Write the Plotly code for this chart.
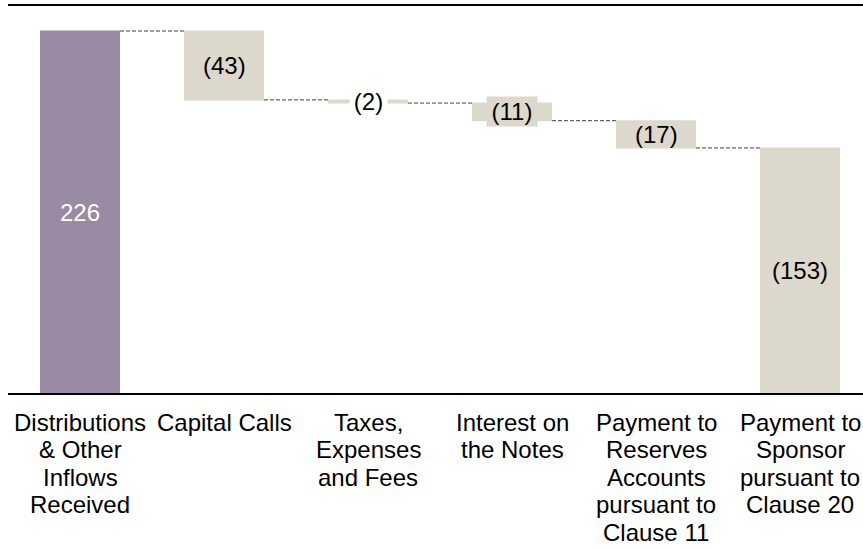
import plotly.graph_objects as go

categories = [
    "Distributions<br>& Other<br>Inflows<br>Received",
    "Capital Calls",
    "Taxes,<br>Expenses<br>and Fees",
    "Interest on<br>the Notes",
    "Payment to<br>Reserves<br>Accounts<br>pursuant to<br>Clause 11",
    "Payment to<br>Sponsor<br>pursuant to<br>Clause 20",
]
values = [226, -43, -2, -11, -17, -153]
measures = ["absolute", "relative", "relative", "relative", "relative", "relative"]
value_labels = ["226", "(43)", "(2)", "(11)", "(17)", "(153)"]

PURPLE = "#9b8aa3"
BEIGE = "#ddd8cc"
FONT = "Liberation Sans, Arial, sans-serif"
FS = 24
LINE_H = 27.4

x = list(range(len(categories)))

fig = go.Figure(go.Waterfall(
    x=x,
    y=values,
    measure=measures,
    width=[80 / 144] * len(x),
    increasing=dict(marker=dict(color=PURPLE, line=dict(width=0))),
    decreasing=dict(marker=dict(color=BEIGE, line=dict(width=0))),
    totals=dict(marker=dict(color=PURPLE, line=dict(width=0))),
    connector=dict(mode="between", line=dict(color="#404040", width=1, dash="4px,2px")),
    hoverinfo="skip",
))

# value labels placed at the middle of each bar
label_bg = [None, None, "white", BEIGE, None, None]
label_w = [None, None, 37, 50, None, None]
label_h = [None, None, None, 29, None, None]
label_color = ["white", "black", "black", "black", "black", "black"]
running = 0
for i, v in enumerate(values):
    if measures[i] == "absolute":
        start, end = 0, v
    else:
        start, end = running, running + v
    running = end
    mid = (start + end) / 2
    kw = {}
    if label_bg[i]:
        kw["bgcolor"] = label_bg[i]
    if label_w[i]:
        kw["width"] = label_w[i]
    if label_h[i]:
        kw["height"] = label_h[i]
    fig.add_annotation(
        x=i, y=mid, text=value_labels[i], showarrow=False,
        font=dict(family=FONT, size=FS, color=label_color[i]),
        borderpad=0, xref="x", yref="y", **kw,
    )

# category labels (tight line spacing, one line per annotation)
for i, cat in enumerate(categories):
    for k, line in enumerate(cat.split("<br>")):
        fig.add_annotation(
            x=i, xref="x", y=0, yref="paper", yanchor="middle",
            yshift=-(29.5 + k * LINE_H), text=line, showarrow=False,
            font=dict(family=FONT, size=FS, color="black"),
        )

fig.update_layout(
    width=863, height=548,
    margin=dict(l=8, r=0, t=6, b=155, autoexpand=False),
    paper_bgcolor="white", plot_bgcolor="white",
    showlegend=False,
    font=dict(family=FONT, size=FS, color="black"),
    xaxis=dict(
        tickmode="array", tickvals=x, ticktext=categories,
        showticklabels=False, automargin=False,
        range=[-0.5, (863 - 80) / 144],
        showline=True, linecolor="black", linewidth=2, mirror=True,
        showgrid=False, zeroline=False, ticks="",
    ),
    yaxis=dict(
        range=[0, 226 * 387 / 362], automargin=False,
        showgrid=False, zeroline=False, showticklabels=False, showline=False,
    ),
)

fig.write_html(
    "out.html",
    config={"displayModeBar": False},
    post_script="document.body.style.margin='0px';",
)
